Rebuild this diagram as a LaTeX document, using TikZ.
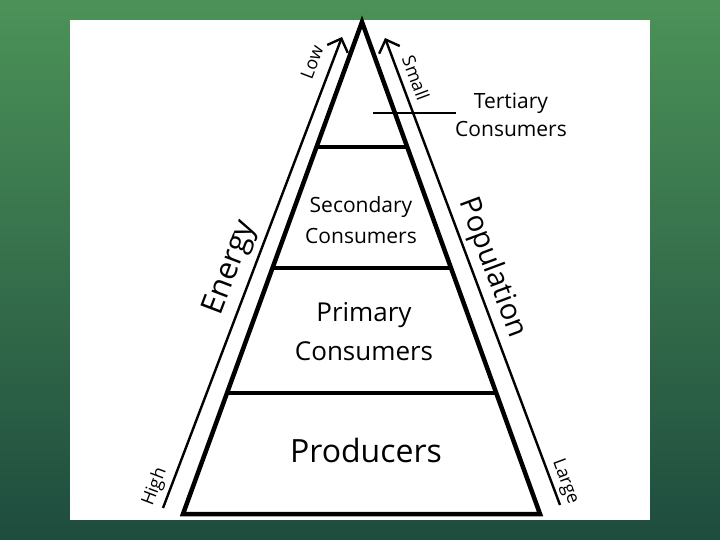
\documentclass[tikz,border=0pt]{standalone}
\usepackage{fontspec}
\setmainfont{Open Sans}
\usetikzlibrary{arrows.meta,calc}
\definecolor{bgtop}{RGB}{76,146,88}
\definecolor{bgbot}{RGB}{30,76,62}
\tikzset{
  pyr/.style={line width=4.5pt,line join=miter,line cap=round},
  layer/.style={line width=3.5pt},
  arrowline/.style={line width=2.4pt,-{Straight Barb[length=11pt,width=22pt,line width=2.4pt]}},
  lbl/.style={inner sep=0pt,align=center,text=black},
}
\begin{document}
\begin{tikzpicture}[x=1pt,y=-1pt]
\useasboundingbox (0,0) rectangle (720,540);
\shade[top color=bgtop,bottom color=bgbot] (0,0) rectangle (720,540);
\fill[white] (70,20) rectangle (650,520);
% pyramid
\coordinate (apex) at (362,22);
\coordinate (bl) at (183,514);
\coordinate (br) at (540,514);
\draw[pyr] (apex) -- (bl) -- (br) -- cycle;
\draw[layer] ($(apex)!0.254!(bl)$) -- ($(apex)!0.254!(br)$);
\draw[layer] ($(apex)!0.500!(bl)$) -- ($(apex)!0.500!(br)$);
\draw[layer] ($(apex)!0.754!(bl)$) -- ($(apex)!0.754!(br)$);
% side arrows
\coordinate (l0) at (163,508);
\coordinate (l1) at (342,37);
\coordinate (r0) at (560,505);
\coordinate (r1) at (385,38);
\draw[arrowline] (l0) -- (l1);
\draw[arrowline] (r0) -- (r1);
% tertiary pointer
\coordinate (t0) at (373,113);
\coordinate (t1) at (456,113);
\draw[line width=2.5pt] (t0) -- (t1);
% labels
\node[lbl,font=\fontsize{21}{28}\selectfont] (tert) at (511,115) {Tertiary\\Consumers};
\node[lbl,font=\fontsize{21}{31}\selectfont] (sec) at (361,220) {Secondary\\Consumers};
\node[lbl,font=\fontsize{26}{39}\selectfont] (prim) at (364,332) {Primary\\Consumers};
\node[lbl,font=\fontsize{32}{38}\selectfont] (prod) at (366,450) {Producers};
\node[lbl,font=\fontsize{31}{36}\selectfont,rotate=69.2] (energy) at (231,268) {Energy};
\node[lbl,font=\fontsize{29}{34}\selectfont,rotate=-69.5] (pop) at (492,268) {Population};
\node[lbl,font=\fontsize{18}{20}\selectfont,rotate=69.2] (low) at (312,62) {Low};
\node[lbl,font=\fontsize{18}{20}\selectfont,rotate=69.2] (high) at (155,487) {High};
\node[lbl,font=\fontsize{18}{20}\selectfont,rotate=-69.5] (small) at (416,78) {Small};
\node[lbl,font=\fontsize{18}{20}\selectfont,rotate=-69.5] (large) at (565,482) {Large};
\end{tikzpicture}
\end{document}
